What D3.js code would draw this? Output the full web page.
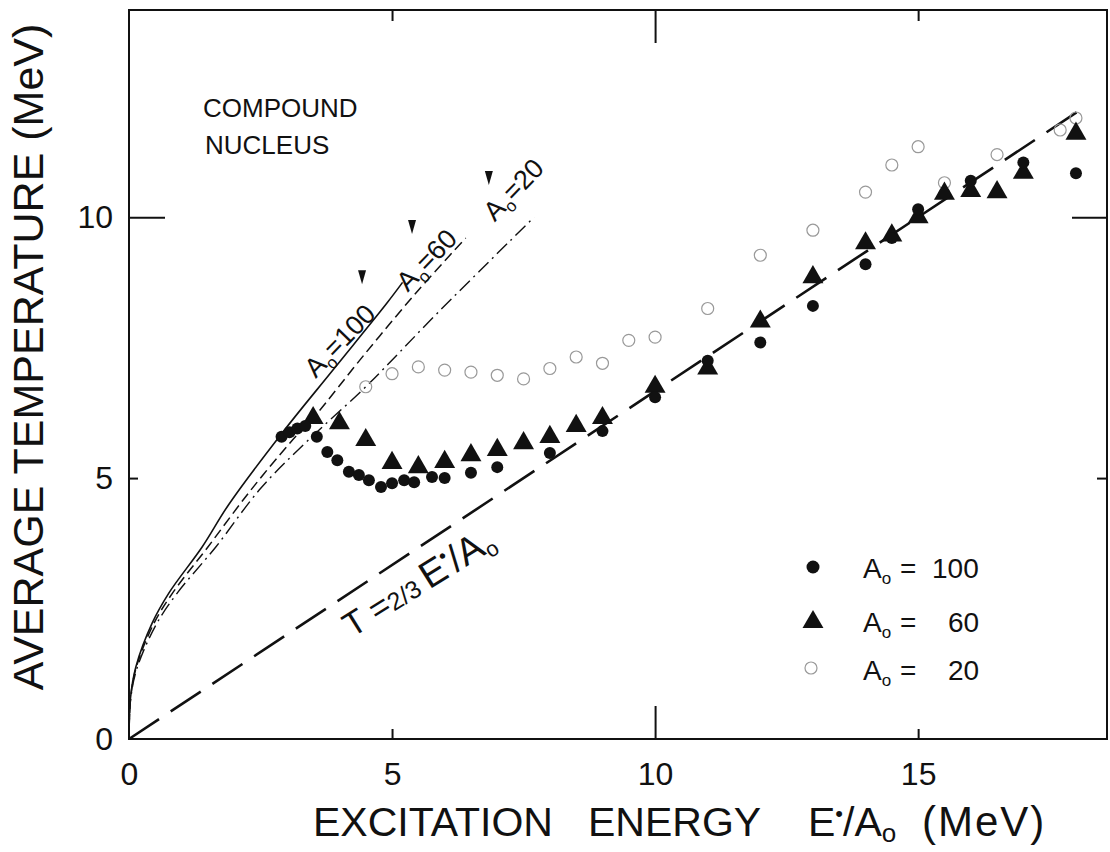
<!DOCTYPE html>
<html>
<head>
<meta charset="utf-8">
<script src="https://cdn.jsdelivr.net/npm/d3@7"></script>
<style>
  body { margin: 0; background: #fff; }
  svg text { font-family: "Liberation Sans", "DejaVu Sans", sans-serif; fill: #111; }
</style>
</head>
<body>
<svg id="chart" width="1110" height="852"></svg>
<script>
// measured points, E*/A0 (MeV) and T (MeV)
var e100 = [2.9, 3.05, 3.2, 3.35, 3.57, 3.77, 3.96, 4.18, 4.37, 4.56, 4.79, 5.0, 5.23, 5.42, 5.76, 6.0, 6.5, 7.0, 8.0, 9.0, 10.0, 11.0, 12.0, 13.0, 14.0, 14.5, 15.0, 15.5, 16.0, 17.0, 18.0];
var t100 = [5.79, 5.88, 5.95, 6.0, 5.79, 5.5, 5.34, 5.12, 5.06, 4.96, 4.83, 4.9, 4.96, 4.92, 5.02, 5.0, 5.1, 5.21, 5.48, 5.9, 6.55, 7.25, 7.6, 8.3, 9.1, 9.6, 10.15, 10.45, 10.7, 11.05, 10.84];

var e60 = [3.5, 4.0, 4.5, 5.0, 5.5, 6.0, 6.5, 7.0, 7.5, 8.0, 8.5, 9.0, 10.0, 11.0, 12.0, 13.0, 14.0, 14.5, 15.0, 15.5, 16.0, 16.5, 17.0, 18.0];
var t60 = [6.15, 6.05, 5.73, 5.29, 5.21, 5.31, 5.44, 5.54, 5.67, 5.79, 6.0, 6.15, 6.75, 7.1, 8.0, 8.85, 9.5, 9.65, 10.0, 10.45, 10.5, 10.48, 10.85, 11.6];

var e20 = [4.5, 5.0, 5.5, 6.0, 6.5, 7.0, 7.5, 8.0, 8.5, 9.0, 9.5, 10.0, 11.0, 12.0, 13.0, 14.0, 14.5, 15.0, 15.5, 16.5, 17.7, 18.0];
var t20 = [6.75, 7.0, 7.13, 7.07, 7.03, 6.97, 6.9, 7.1, 7.32, 7.2, 7.64, 7.7, 8.25, 9.27, 9.75, 10.48, 11.0, 11.35, 10.66, 11.2, 11.67, 11.9];

// compound nucleus curves
var cn100 = [[0, 0], [0.03, 0.8], [0.13, 1.38], [0.44, 2.22], [0.76, 2.8], [1.39, 3.68], [1.9, 4.5], [2.9, 5.85], [3.9, 7.1], [4.9, 8.35], [5.2, 8.75]];
var cn60 = [[0, 0], [0.03, 0.78], [0.14, 1.38], [0.47, 2.21], [0.83, 2.8], [1.5, 3.68], [2.3, 4.75], [3.1, 5.72], [3.5, 6.15], [4.5, 7.4], [5.5, 8.6], [6.4, 9.6]];
var cn20 = [[0, 0], [0.03, 0.75], [0.15, 1.35], [0.52, 2.2], [0.92, 2.8], [1.65, 3.68], [2.5, 4.8], [3.4, 5.72], [4.5, 6.75], [5.9, 8.2], [7.7, 10.0]];
// T = 2/3 E*/A0
var linE = [0, 18.05];
var linT = linE.map(function (e) { return 2 / 3 * e; });

// arrow marks at the end of each curve label
var arrowE = [4.43, 5.38, 6.84];
var arrowT = [8.85, 9.81, 10.75];

var xTicks = [0, 5, 10, 15];
var yTicks = [0, 5, 10];
var legendNums = ["100", "60", "20"];

var svg = d3.select("#chart");

var x = d3.scaleLinear().domain([0, 18.59]).range([129, 1107]);
var y = d3.scaleLinear().domain([0, 13.97]).range([739, 10]);

// frame
svg.append("rect")
  .attr("x", x(0)).attr("y", y(13.97))
  .attr("width", x(18.59) - x(0)).attr("height", y(0) - y(13.97))
  .attr("fill", "none").attr("stroke", "#111").attr("stroke-width", 2);

// inner ticks: 10 is long, 5 and 15 short
function tickAxis(axis, pos, vals, size) {
  var g = svg.append("g")
    .attr("transform", pos)
    .call(axis.tickValues(vals).tickSize(size).tickFormat(""));
  g.select(".domain").remove();
  g.selectAll("line").attr("stroke", "#111").attr("stroke-width", 2);
}
tickAxis(d3.axisTop(x), `translate(0,${y(0)})`, [5, 15], 10);
tickAxis(d3.axisTop(x), `translate(0,${y(0)})`, [10], 33);
tickAxis(d3.axisBottom(x), `translate(0,${y(13.97)})`, [5, 15], 11);
tickAxis(d3.axisBottom(x), `translate(0,${y(13.97)})`, [10], 33);
tickAxis(d3.axisRight(y), `translate(${x(0)},0)`, [5], 9);
tickAxis(d3.axisRight(y), `translate(${x(0)},0)`, [10], 36);
tickAxis(d3.axisLeft(y), `translate(${x(18.59)},0)`, [5], 10);
tickAxis(d3.axisLeft(y), `translate(${x(18.59)},0)`, [10], 35);

// tick labels
var xl = svg.append("g")
  .attr("transform", `translate(0,${y(0)})`)
  .call(d3.axisBottom(x).tickValues(xTicks).tickSize(0).tickPadding(23));
xl.select(".domain").remove();
xl.selectAll("text").attr("font-size", 32).attr("font-family", null);

var yl = svg.append("g")
  .attr("transform", `translate(${x(0)},0)`)
  .call(d3.axisLeft(y).tickValues(yTicks).tickSize(0).tickPadding(16));
yl.select(".domain").remove();
yl.selectAll("text").attr("font-size", 32).attr("font-family", null);

// axis titles
svg.append("text")
  .attr("transform", "translate(43,357) rotate(-90)")
  .attr("text-anchor", "middle")
  .attr("font-size", 43)
  .text("AVERAGE TEMPERATURE (MeV)");

var xt = svg.append("text")
  .attr("y", 836)
  .attr("font-size", 41);
xt.append("tspan").attr("x", 313).text("EXCITATION");
xt.append("tspan").attr("x", 588).text("ENERGY");
xt.append("tspan").attr("x", 808).text("E");
xt.append("tspan").attr("dy", -15).attr("font-size", 22).text("•");
xt.append("tspan").attr("dy", 15).text("/A");
xt.append("tspan").attr("dy", 6).attr("font-size", 26).text("o");
xt.append("tspan").attr("x", 922).attr("dy", -6).attr("font-size", 42)
  .attr("letter-spacing", 2).text("(MeV)");

// compound nucleus curves
var line = d3.line()
  .x(function (d) { return x(d[0]); })
  .y(function (d) { return y(d[1]); })
  .curve(d3.curveCatmullRom.alpha(0.5));

svg.append("path").datum(cn100).attr("d", line)
  .attr("fill", "none").attr("stroke", "#111").attr("stroke-width", 1.6);
svg.append("path").datum(cn60).attr("d", line)
  .attr("fill", "none").attr("stroke", "#111").attr("stroke-width", 1.5)
  .attr("stroke-dasharray", "10,5");
svg.append("path").datum(cn20).attr("d", line)
  .attr("fill", "none").attr("stroke", "#111").attr("stroke-width", 1.4)
  .attr("stroke-dasharray", "14,5,2,5");

// T = 2/3 E*/A0
svg.append("path")
  .datum(d3.zip(linE, linT))
  .attr("d", d3.line().x(function (d) { return x(d[0]); }).y(function (d) { return y(d[1]); }))
  .attr("fill", "none").attr("stroke", "#111").attr("stroke-width", 2.6)
  .attr("stroke-dasharray", "36,14");

// curve labels
function curveLabel(px, py, num) {
  var t = svg.append("text")
    .attr("transform", `translate(${px},${py}) rotate(-46)`)
    .attr("font-size", 27);
  t.append("tspan").text("A");
  t.append("tspan").attr("dy", 6).attr("font-size", 17).text("o");
  t.append("tspan").attr("dy", -6).text("=" + num);
}
curveLabel(x(3.55), y(6.9), "100");
curveLabel(x(5.3), y(8.55), "60");
curveLabel(x(6.95), y(9.9), "20");

svg.selectAll(".arrow")
  .data(d3.zip(arrowE, arrowT))
  .enter().append("path")
  .attr("class", "arrow")
  .attr("transform", function (d) { return `translate(${x(d[0])},${y(d[1])})`; })
  .attr("d", "M-4,-7 L4,-7 L0,7 Z")
  .attr("fill", "#111");

svg.append("text")
  .attr("x", 203).attr("y", 117)
  .attr("font-size", 26)
  .text("COMPOUND");
svg.append("text")
  .attr("x", 205).attr("y", 154)
  .attr("font-size", 26)
  .text("NUCLEUS");

// T=2/3 label
var tl = svg.append("text")
  .attr("transform", "translate(352,638) rotate(-32)")
  .attr("font-size", 34)
  .attr("xml:space", "preserve");
tl.append("tspan").text("T =");
tl.append("tspan").attr("font-size", 25).text("2/3 ");
tl.append("tspan").attr("font-size", 38).text("E");
tl.append("tspan").attr("dy", -15).attr("font-size", 20).text("•");
tl.append("tspan").attr("dy", 15).attr("font-size", 38).text("/A");
tl.append("tspan").attr("dy", 6).attr("font-size", 22).text("o");

// data points
var tri = d3.symbol().type(d3.symbolTriangle).size(190);

svg.selectAll(".p20")
  .data(d3.zip(e20, t20))
  .enter().append("circle")
  .attr("class", "p20")
  .attr("cx", function (d) { return x(d[0]); })
  .attr("cy", function (d) { return y(d[1]); })
  .attr("r", 6)
  .attr("fill", "none").attr("stroke", "#999").attr("stroke-width", 1.2);

svg.selectAll(".p60")
  .data(d3.zip(e60, t60))
  .enter().append("path")
  .attr("class", "p60")
  .attr("d", tri)
  .attr("transform", function (d) { return `translate(${x(d[0])},${y(d[1])})`; })
  .attr("fill", "#111");

svg.selectAll(".p100")
  .data(d3.zip(e100, t100))
  .enter().append("circle")
  .attr("class", "p100")
  .attr("cx", function (d) { return x(d[0]); })
  .attr("cy", function (d) { return y(d[1]); })
  .attr("r", 6)
  .attr("fill", "#111");

// legend
var leg = svg.append("g");
var rowY = [578, 632, 680];
leg.append("circle").attr("cx", 813).attr("cy", rowY[0] - 11).attr("r", 6.5).attr("fill", "#111");
leg.append("path").attr("d", tri).attr("transform", `translate(813,${rowY[1] - 10})`).attr("fill", "#111");
leg.append("circle").attr("cx", 811).attr("cy", rowY[2] - 12).attr("r", 6).attr("fill", "none")
  .attr("stroke", "#999").attr("stroke-width", 1.2);

legendNums.forEach(function (num, i) {
  var t = leg.append("text")
    .attr("x", 863).attr("y", rowY[i])
    .attr("font-size", 28);
  t.append("tspan").text("A");
  t.append("tspan").attr("dy", 6).attr("font-size", 17).text("o");
  t.append("tspan").attr("x", 900).attr("dy", -6).text("=");
  t.append("tspan").attr("x", num.length === 3 ? 932 : 948).text(num);
});
</script>
</body>
</html>
